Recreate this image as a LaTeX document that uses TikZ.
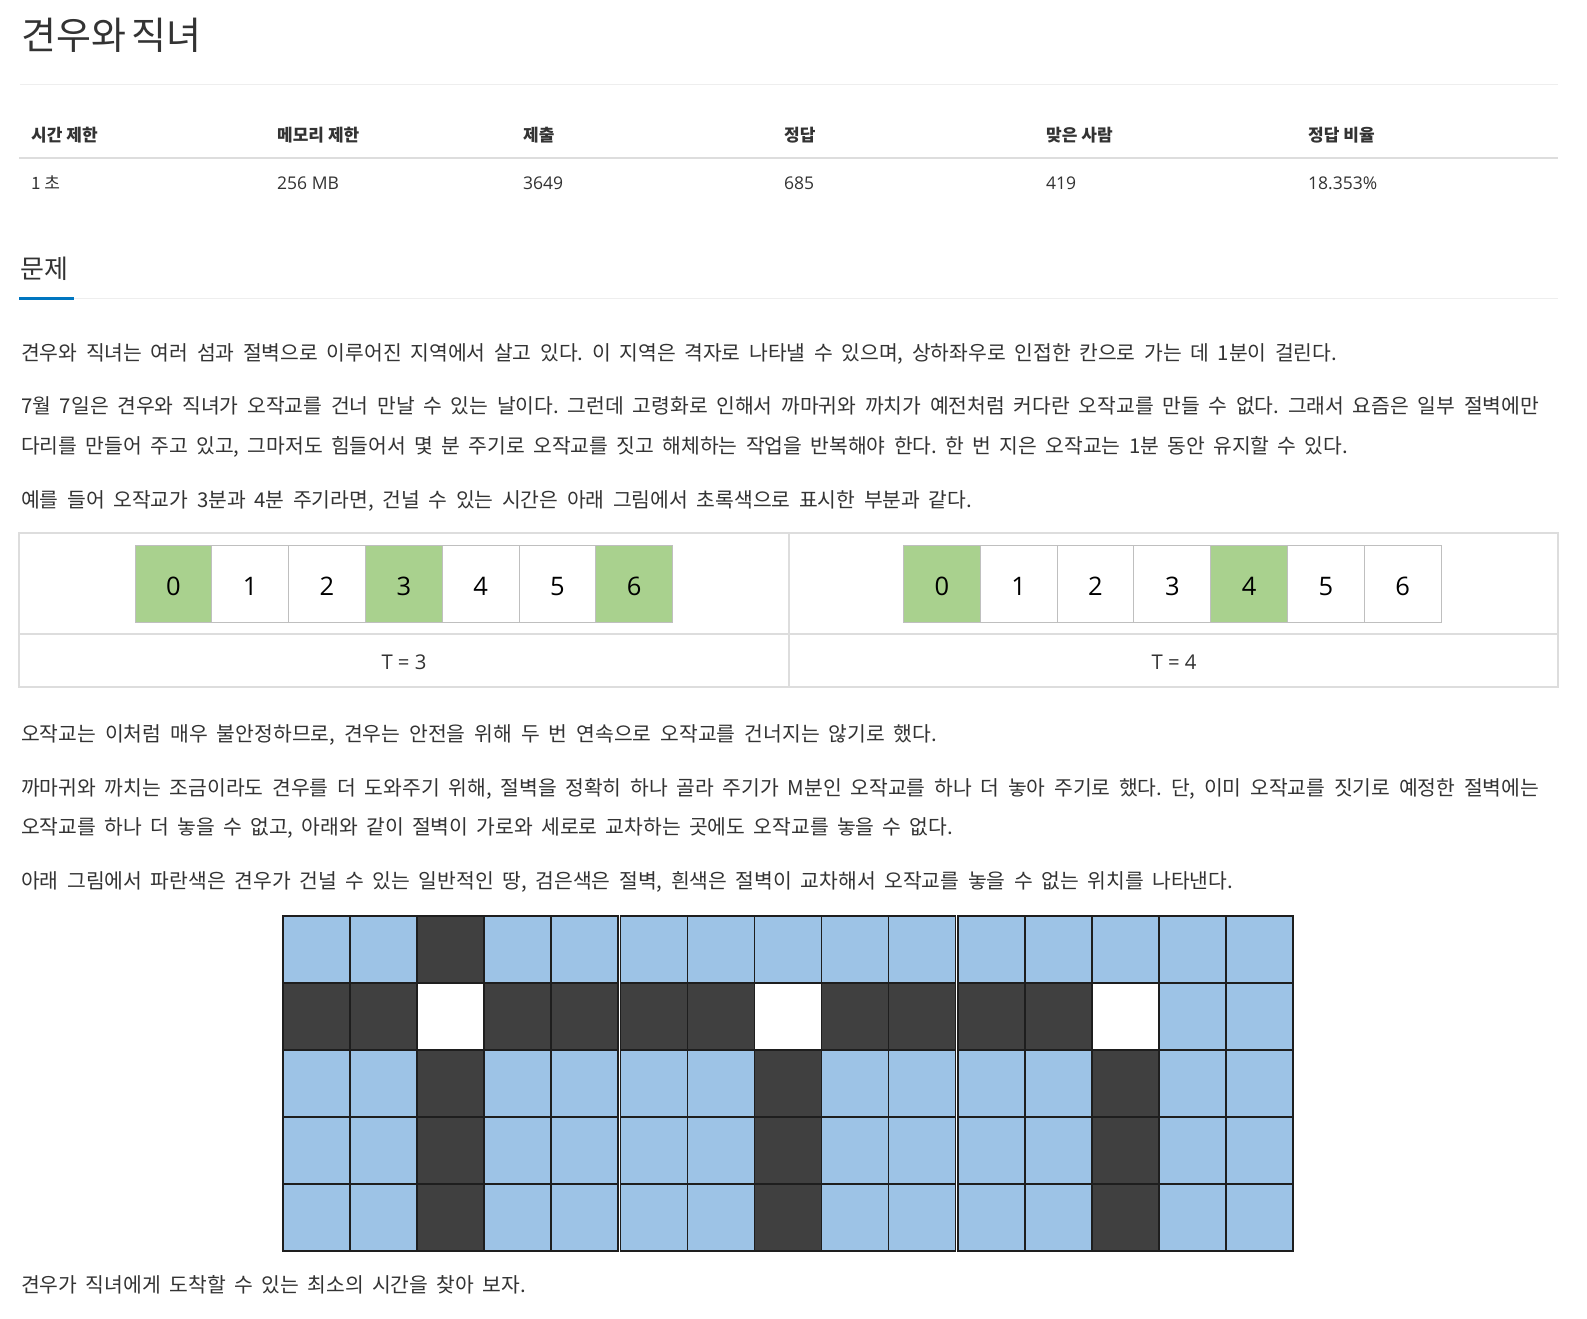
\documentclass[tikz,border=0pt]{standalone}
\usepackage{fontspec}
\setmainfont{Noto Sans CJK KR}
\newfontfamily\os{Open Sans}
\frenchspacing
\definecolor{textgray}{HTML}{333333}
\definecolor{lightline}{HTML}{EEEEEE}
\definecolor{tabline}{HTML}{DDDDDD}
\definecolor{cellline}{HTML}{BFBFBF}
\definecolor{cellgreen}{HTML}{A9D18E}
\definecolor{tabblue}{HTML}{0076C0}
\definecolor{gb}{HTML}{9DC3E6}
\definecolor{gd}{HTML}{404040}
\definecolor{gw}{HTML}{FFFFFF}
\definecolor{gridline}{HTML}{1E1E1E}
\tikzset{
  txt/.style={anchor=base west, inner sep=0pt, text=textgray, font=\fontsize{20.4}{24}\selectfont\frenchspacing},
  hdr/.style={anchor=base west, inner sep=0pt, text=textgray, font=\fontsize{17}{20}\selectfont\bfseries},
  val/.style={anchor=base west, inner sep=0pt, text=textgray, font=\os\fontsize{17.5}{20}\selectfont},
  valkr/.style={anchor=base west, inner sep=0pt, text=textgray, font=\fontsize{17}{20}\selectfont},
  tcell/.style={draw=cellline, line width=1pt, fill=white, minimum width=76.8pt, minimum height=77pt,
    inner sep=0pt, text height=23pt, text depth=0pt, text=black, font=\os\fontsize{25.5}{28}\selectfont},
  gcell/.style={tcell, fill=cellgreen},
  tlabel/.style={anchor=base, inner sep=0pt, text=textgray, font=\os\fontsize{20.3}{22}\selectfont},
}
\begin{document}
\begin{tikzpicture}[x=1pt,y=-1pt]
\useasboundingbox (0,0) rectangle (1587,1318);
\fill[white] (0,0) rectangle (1587,1318);

% title
\node[anchor=base west, inner sep=0pt, text=textgray, font=\fontsize{38}{42}\selectfont] (title) at (21,49) {\hbox to 180pt{견우와 직녀}};
\draw[lightline, line width=1pt] (20,84) -- (1558,84);

% info table
\node[hdr] (h1) at (31,141) {시간 제한};
\node[hdr] (h2) at (277,141) {메모리 제한};
\node[hdr] (h3) at (523,141) {제출};
\node[hdr] (h4) at (784,141) {정답};
\node[hdr] (h5) at (1046,141) {맞은 사람};
\node[hdr] (h6) at (1308,141) {정답 비율};
\draw[tabline, line width=1.5pt] (19,158) -- (1558,158);
\node[valkr] (v1) at (31,189) {1 초};
\node[val] (v2) at (277,189) {256 MB};
\node[val] (v3) at (523,189) {3649};
\node[val] (v4) at (784,189) {685};
\node[val] (v5) at (1046,189) {419};
\node[val] (v6) at (1308,189) {18.353\%};

% section heading
\node[anchor=base west, inner sep=0pt, text=textgray, font=\fontsize{26}{30}\selectfont] (sec) at (20,278) {문제};
\draw[lightline, line width=1pt] (74,298) -- (1558,298);
\draw[tabblue, line width=3pt] (19,298.5) -- (74,298.5);

% paragraphs
\node[txt] (p1) at (21,360) {\hbox to 1316pt{견우와 직녀는 여러 섬과 절벽으로 이루어진 지역에서 살고 있다. 이 지역은 격자로 나타낼 수 있으며, 상하좌우로 인접한 칸으로 가는 데 1분이 걸린다.}};
\node[txt] (p2a) at (21,413) {\hbox to 1518pt{7월 7일은 견우와 직녀가 오작교를 건너 만날 수 있는 날이다. 그런데 고령화로 인해서 까마귀와 까치가 예전처럼 커다란 오작교를 만들 수 없다. 그래서 요즘은 일부 절벽에만}};
\node[txt] (p2b) at (21,453.5) {\hbox to 1327pt{다리를 만들어 주고 있고, 그마저도 힘들어서 몇 분 주기로 오작교를 짓고 해체하는 작업을 반복해야 한다. 한 번 지은 오작교는 1분 동안 유지할 수 있다.}};
\node[txt] (p3) at (21,507.5) {\hbox to 951pt{예를 들어 오작교가 3분과 4분 주기라면, 건널 수 있는 시간은 아래 그림에서 초록색으로 표시한 부분과 같다.}};

% T table
\draw[tabline, line width=1.3pt] (19,533) rectangle (1558,687);
\draw[tabline, line width=1.3pt] (19,634) -- (1558,634);
\draw[tabline, line width=1.3pt] (789,533) -- (789,687);
\foreach \i in {0,...,6}{
  \pgfmathsetmacro{\cx}{135+76.8*\i+38.4}
  \pgfmathparse{mod(\i,3)==0 ? "gcell" : "tcell"}
  \edef\sty{\pgfmathresult}
  \node[\sty] (a\i) at (\cx,583.5) {\i};
}
\foreach \i in {0,...,6}{
  \pgfmathsetmacro{\cx}{903.5+76.8*\i+38.4}
  \pgfmathparse{mod(\i,4)==0 ? "gcell" : "tcell"}
  \edef\sty{\pgfmathresult}
  \node[\sty] (b\i) at (\cx,583.5) {\i};
}
\node[tlabel] (t3) at (404,669) {T = 3};
\node[tlabel] (t4) at (1174,669) {T = 4};

\node[txt] (p4) at (21,741.5) {\hbox to 916pt{오작교는 이처럼 매우 불안정하므로, 견우는 안전을 위해 두 번 연속으로 오작교를 건너지는 않기로 했다.}};
\node[txt] (p5a) at (21,795.5) {\hbox to 1518pt{까마귀와 까치는 조금이라도 견우를 더 도와주기 위해, 절벽을 정확히 하나 골라 주기가 M분인 오작교를 하나 더 놓아 주기로 했다. 단, 이미 오작교를 짓기로 예정한 절벽에는}};
\node[txt] (p5b) at (21,834.5) {\hbox to 932pt{오작교를 하나 더 놓을 수 없고, 아래와 같이 절벽이 가로와 세로로 교차하는 곳에도 오작교를 놓을 수 없다.}};
\node[txt] (p6) at (21,888.5) {\hbox to 1212pt{아래 그림에서 파란색은 견우가 건널 수 있는 일반적인 땅, 검은색은 절벽, 흰색은 절벽이 교차해서 오작교를 놓을 수 없는 위치를 나타낸다.}};

% grid
\foreach \r/\rowlist in {0/{b,b,d,b,b,b,b,b,b,b,b,b,b,b,b},
                         1/{d,d,w,d,d,d,d,w,d,d,d,d,w,b,b},
                         2/{b,b,d,b,b,b,b,d,b,b,b,b,d,b,b},
                         3/{b,b,d,b,b,b,b,d,b,b,b,b,d,b,b},
                         4/{b,b,d,b,b,b,b,d,b,b,b,b,d,b,b}}{
  \foreach \c [count=\ci from 0] in \rowlist {
    \pgfmathsetmacro{\gx}{283+floor(\ci/5)*337.5+mod(\ci,5)*67}
    \pgfmathsetmacro{\gy}{916+\r*67}
    \filldraw[fill=g\c, draw=gridline, line width=1.4pt] (\gx,\gy) rectangle ++(67,67);
  }
}
\foreach \k in {0,1,2}{
  \draw[gridline, line width=1.8pt] (283+\k*337.5,916) rectangle ++(335,335);
}

\node[txt] (p7) at (21,1292) {\hbox to 505pt{견우가 직녀에게 도착할 수 있는 최소의 시간을 찾아 보자.}};
\end{tikzpicture}
\end{document}
